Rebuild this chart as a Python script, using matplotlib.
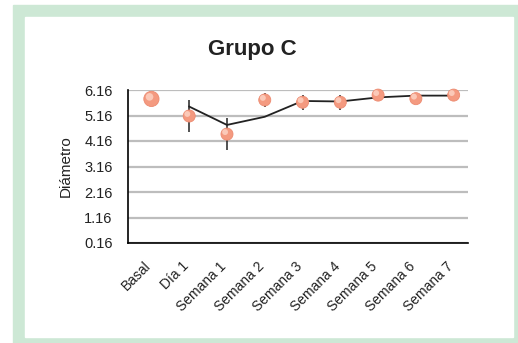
import numpy as np
import matplotlib.pyplot as plt
from matplotlib.patches import Rectangle
from matplotlib.transforms import ScaledTranslation

plt.rcParams['font.family'] = ['Liberation Sans', 'DejaVu Sans']

# diameter per visit, group C
labels = ["Basal", "Día 1", "Semana 1", "Semana 2", "Semana 3",
          "Semana 4", "Semana 5", "Semana 6", "Semana 7"]
diam_mean = [5.81, 5.14, 4.43, 5.77, 5.68, 5.68, 5.96, 5.82, 5.96]
diam_err = [0.0, 0.64, 0.64, 0.29, 0.29, 0.29, 0.0, 0.0, 0.0]
trend = [np.nan, 5.51, 4.79, 5.11, 5.73, 5.71, 5.87, 5.94, 5.94]
yticks = [0.16, 1.16, 2.16, 3.16, 4.16, 5.16, 6.16]

W, H = 518, 343
fig = plt.figure(figsize=(W / 100, H / 100), dpi=100)

# green frame around the white panel
fig.add_artist(Rectangle((13 / W, 0), 1 - 13 / W, 1 - 5 / H,
                         transform=fig.transFigure, color="#cde8d5", zorder=-2))
fig.add_artist(Rectangle((25 / W, 6 / H), (513 - 25) / W, (337 - 17) / H,
                         transform=fig.transFigure, color="white", zorder=-1))

ax = fig.add_axes([128 / W, 1 - 243 / H, (468 - 128) / W, (243 - 90) / H])
ax.set_zorder(2)
ax.set_facecolor("none")
x = np.arange(len(labels))
xs = x + 0.12  # series sit slightly right of the category centre

ax.set_ylim(0.16, 6.16)
ax.set_xlim(-0.5, 8.5)
ax.set_yticks(yticks)
ax.set_yticklabels([f"{v:.2f}" for v in yticks], fontsize=10.5, color="#222222")
ax.set_xticks(x)
ax.set_xticklabels([])
ax.tick_params(axis="y", length=0, pad=11)
ax.tick_params(axis="x", length=0)

# category labels, rotated and hung below the axis
offset = ScaledTranslation(-3 / 100, -16 / 100, fig.dpi_scale_trans)
for xi, lbl in zip(x, labels):
    ax.text(xi, 0, lbl, transform=ax.get_xaxis_transform() + offset,
            rotation=45, ha="right", va="top", rotation_mode="anchor",
            fontsize=10, color="#222222", clip_on=False)

ax.grid(axis="y", color="#bdbdbd", linewidth=1.6)
ax.set_axisbelow(True)
for side in ["top", "right"]:
    ax.spines[side].set_visible(False)
for side in ["left", "bottom"]:
    ax.spines[side].set_linewidth(1.2)

ax.plot(xs, trend, color="#222222", linewidth=1.3, zorder=3)
ax.errorbar(xs, diam_mean, yerr=diam_err, fmt="none", ecolor="#222222",
            elinewidth=1.1, capsize=0, zorder=3)

sizes = [120] + [75] * (len(x) - 1)
ax.scatter(xs, diam_mean, s=sizes, color="#f49a80", edgecolors="#ec8a70",
           linewidths=0.6, zorder=4, clip_on=False)
# small highlight on each sphere
ax.scatter(xs - 0.05, np.array(diam_mean) + 0.08, s=[30] + [18] * (len(x) - 1),
           color="#fbc9b8", edgecolors="none", zorder=5, clip_on=False)

ax.set_ylabel("Diámetro", fontsize=11, labelpad=8, color="#222222")
fig.text(252 / W, 1 - 50 / H, "Grupo C", ha="center", va="center",
         fontsize=16, fontweight="bold", color="#222222")

fig.savefig("out.png", dpi=100)
